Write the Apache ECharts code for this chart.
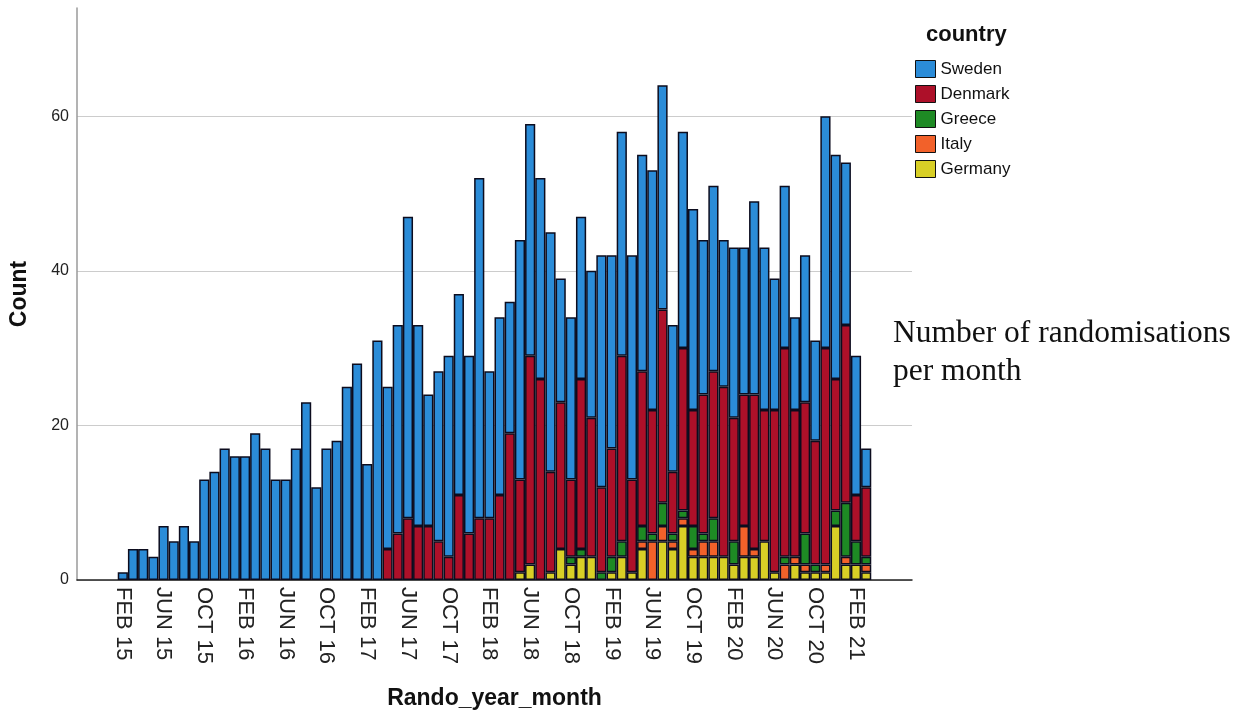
<!DOCTYPE html>
<html><head><meta charset="utf-8">
<script src="https://cdn.jsdelivr.net/npm/echarts@6/dist/echarts.min.js"></script>
<style>html,body{margin:0;padding:0;background:#fff}#c{width:1255px;height:718px}</style>
</head><body><div id="c"></div>
<script>
const categories = [
 'FEB 15','MAR 15','APR 15','MAY 15','JUN 15','JUL 15','AUG 15','SEP 15','OCT 15','NOV 15','DEC 15',
 'JAN 16','FEB 16','MAR 16','APR 16','MAY 16','JUN 16','JUL 16','AUG 16','SEP 16','OCT 16','NOV 16','DEC 16',
 'JAN 17','FEB 17','MAR 17','APR 17','MAY 17','JUN 17','JUL 17','AUG 17','SEP 17','OCT 17','NOV 17','DEC 17',
 'JAN 18','FEB 18','MAR 18','APR 18','MAY 18','JUN 18','JUL 18','AUG 18','SEP 18','OCT 18','NOV 18','DEC 18',
 'JAN 19','FEB 19','MAR 19','APR 19','MAY 19','JUN 19','JUL 19','AUG 19','SEP 19','OCT 19','NOV 19','DEC 19',
 'JAN 20','FEB 20','MAR 20','APR 20','MAY 20','JUN 20','JUL 20','AUG 20','SEP 20','OCT 20','NOV 20','DEC 20',
 'JAN 21','FEB 21','MAR 21'
];
const tickLabels = ['FEB 15','JUN 15','OCT 15','FEB 16','JUN 16','OCT 16','FEB 17','JUN 17','OCT 17',
 'FEB 18','JUN 18','OCT 18','FEB 19','JUN 19','OCT 19','FEB 20','JUN 20','OCT 20','FEB 21'];
const yTickLabels = [0, 20, 40, 60];

const sweden = [1,4,4,3,7,5,7,5,13,14,17,16,16,19,17,13,13,17,23,12,17,18,25,28,15,31,
 21,27,39,26,17,22,26,26,23,44,19,23,17,
 31,30,26,31,16,21,21,19,30,25,29,29,28,31,29,19,28,26,20,24,19,22,19,25,21,17,21,12,19,13,30,29,21,18,5];
const denmark = [0,0,0,0,0,0,0,0,0,0,0,0,0,0,0,0,0,0,0,0,0,0,0,0,0,0,
 4,6,8,7,7,5,3,11,6,8,8,11,19,
 12,27,26,13,19,10,22,18,11,14,24,12,20,16,25,8,21,15,18,19,22,16,17,20,17,21,27,19,17,16,28,17,23,6,9];
const greece = [0,0,0,0,0,0,0,0,0,0,0,0,0,0,0,0,0,0,0,0,0,0,0,0,0,0,
 0,0,0,0,0,0,0,0,0,0,0,0,0,
 0,0,0,0,0,1,1,0,1,2,2,0,2,1,3,1,1,3,1,3,0,3,0,0,0,0,1,0,4,1,0,2,7,3,1];
const italy = [0,0,0,0,0,0,0,0,0,0,0,0,0,0,0,0,0,0,0,0,0,0,0,0,0,0,
 0,0,0,0,0,0,0,0,0,0,0,0,0,
 0,0,0,0,0,0,0,0,0,0,0,0,1,5,2,1,1,1,2,2,0,0,4,1,0,0,2,1,1,0,1,0,1,0,1];
const germany = [0,0,0,0,0,0,0,0,0,0,0,0,0,0,0,0,0,0,0,0,0,0,0,0,0,0,
 0,0,0,0,0,0,0,0,0,0,0,0,0,
 1,2,0,1,4,2,3,3,0,1,3,1,4,0,5,4,7,3,3,3,3,2,3,3,5,1,0,2,1,1,1,7,2,2,1];

const countries = ['Sweden','Denmark','Greece','Italy','Germany'];
const colors = {Sweden:'#2b8cd8', Denmark:'#ad1029', Greece:'#1e8a24', Italy:'#f2612a', Germany:'#d8cf26'};
const valuesBy = {Sweden:sweden, Denmark:denmark, Greece:greece, Italy:italy, Germany:germany};

const PAD_L = 4, PAD_R = 4;
const xCats = [];
for (let i = 0; i < PAD_L; i++) xCats.push('padL' + i);
categories.forEach(c => xCats.push(c));
for (let i = 0; i < PAD_R; i++) xCats.push('padR' + i);
function padData(arr) {
  const out = [];
  for (let i = 0; i < PAD_L; i++) out.push(null);
  arr.forEach(v => out.push(v === 0 ? null : v));
  for (let i = 0; i < PAD_R; i++) out.push(null);
  return out;
}

const stackOrder = ['Germany','Italy','Greece','Denmark','Sweden'];
const series = stackOrder.map(name => ({
  name: name, type: 'bar', stack: 'total', barCategoryGap: '0%',
  data: padData(valuesBy[name]),
  itemStyle: {color: colors[name], borderColor: '#0c0c1e', borderWidth: 1.5},
  emphasis: {disabled: true}
}));

const chart = echarts.init(document.getElementById('c'), null, {renderer: 'canvas'});
chart.setOption({
  animation: false,
  backgroundColor: '#fff',
  grid: {left: 77, right: 343, top: 8, bottom: 138},
  xAxis: {
    type: 'category', data: xCats,
    axisLine: {lineStyle: {color: '#222', width: 1.5}},
    axisTick: {show: false},
    axisLabel: {
      interval: (i, v) => tickLabels.indexOf(v) >= 0,
      rotate: -90, margin: 7, padding: [10, 0, 0, 0],
      fontFamily: 'Liberation Sans', fontSize: 22, color: '#222'
    },
    name: 'Rando_year_month', nameLocation: 'middle', nameGap: 107,
    nameTextStyle: {fontFamily: 'Liberation Sans', fontWeight: 'bold', fontSize: 23, color: '#111'}
  },
  yAxis: {
    type: 'value', min: 0, max: 74, interval: 20,
    axisLine: {show: true, lineStyle: {color: '#9a9a9a', width: 1.5}},
    axisTick: {show: false},
    axisLabel: {showMaxLabel: false, fontFamily: 'Liberation Sans', fontSize: 16, color: '#222', margin: 8,
      formatter: v => (yTickLabels.indexOf(v) >= 0 ? String(v) : '')},
    splitLine: {show: true, showMaxLine: false, lineStyle: {color: '#cccccc', width: 1.2}},
    name: 'Count', nameLocation: 'middle', nameGap: 46, nameRotate: 90,
    nameTextStyle: {fontFamily: 'Liberation Sans', fontWeight: 'bold', fontSize: 23, color: '#111'}
  },
  legend: {
    orient: 'vertical', left: 915, top: 60, padding: 0, itemWidth: 20, itemHeight: 17, itemGap: 7,
    icon: 'rect', selectedMode: false, data: countries,
    itemStyle: {borderColor: '#111', borderWidth: 1},
    textStyle: {fontFamily: 'Liberation Sans', fontSize: 17, color: '#111', lineHeight: 17}
  },
  graphic: [
    {type: 'text', left: 926, top: 24,
     style: {text: 'country', font: 'bold 22px "Liberation Sans"', fill: '#111'}},
    {type: 'text', left: 893, top: 315,
     style: {text: 'Number of randomisations\nper month', font: '31.5px "Liberation Serif"', lineHeight: 38, fill: '#111'}}
  ],
  series: series
});
</script></body></html>
